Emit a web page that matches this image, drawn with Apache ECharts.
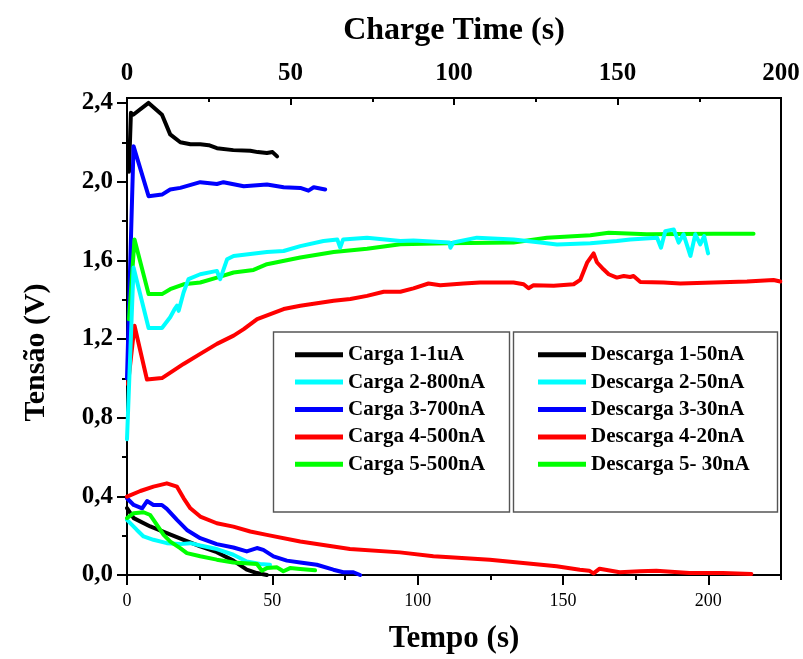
<!DOCTYPE html>
<html>
<head>
<meta charset="utf-8">
<script src="https://cdn.jsdelivr.net/npm/echarts@6/dist/echarts.min.js"></script>
<style>
  html, body { margin: 0; padding: 0; background: #fff; }
  #chart { width: 803px; height: 659px; }
</style>
</head>
<body>
<div id="chart"></div>
<script>
// Charge curves: [charge time (s), voltage (V)]
const carga1 = [[0.6,2.05],[1.2,2.35],[1.9,2.34],[6.6,2.40],[10.7,2.34],[13.2,2.24],[16.3,2.20],[19.4,2.19],[22.4,2.19],[25.0,2.185],[27.5,2.17],[32.5,2.16],[37.7,2.157],[40.0,2.15],[42.8,2.145],[44.5,2.15],[45.9,2.128]];
const carga2 = [[0,0.69],[2.0,1.563],[6.6,1.256],[10.7,1.256],[13.2,1.31],[14.5,1.35],[15.3,1.369],[15.8,1.343],[17.3,1.436],[18.8,1.504],[22.4,1.529],[27.5,1.546],[28.5,1.504],[30.6,1.605],[32.6,1.622],[42.8,1.642],[47.9,1.647],[53.0,1.672],[60.1,1.698],[64.3,1.706],[65.2,1.665],[66.1,1.706],[73.4,1.715],[83.6,1.698],[87.6,1.70],[98.6,1.69],[98.9,1.664],[99.8,1.69],[107.0,1.715],[118.2,1.706],[126.4,1.69],[131.5,1.68],[141.7,1.686],[149.8,1.698],[153.9,1.706],[162.1,1.715],[163.3,1.664],[164.6,1.748],[167.2,1.757],[168.7,1.69],[170.2,1.732],[172.3,1.622],[173.8,1.732],[175.3,1.681],[176.5,1.723],[177.7,1.635]];
const carga3 = [[0,1.00],[2.0,2.18],[6.6,1.926],[10.7,1.934],[13.2,1.96],[16.3,1.968],[22.4,1.997],[27.5,1.988],[29.5,1.997],[35.7,1.976],[42.8,1.985],[47.9,1.971],[53.0,1.968],[55.5,1.954],[57.1,1.971],[60.6,1.96]];
const carga4 = [[0.3,0.97],[2.3,1.267],[6.1,0.994],[10.7,1.001],[14.3,1.04],[17.3,1.073],[22.4,1.124],[27.5,1.175],[32.6,1.217],[35.7,1.25],[39.8,1.301],[47.9,1.352],[53.0,1.369],[63.2,1.394],[68.3,1.403],[73.4,1.419],[78.5,1.44],[83.6,1.44],[87.6,1.457],[92.2,1.482],[95.8,1.473],[102.9,1.482],[108.0,1.487],[118.2,1.487],[121.3,1.478],[122.8,1.458],[124.3,1.473],[130.5,1.47],[136.6,1.478],[138.6,1.50],[140.7,1.588],[142.7,1.635],[143.7,1.59],[145.7,1.554],[147.3,1.529],[149.8,1.512],[151.9,1.52],[153.9,1.515],[154.9,1.52],[157.0,1.49],[164.1,1.487],[169.2,1.482],[179.4,1.487],[189.6,1.492],[197.7,1.50],[199.8,1.492]];
const carga5 = [[0.6,1.30],[2.3,1.706],[6.6,1.428],[10.7,1.428],[13.2,1.453],[17.3,1.478],[22.4,1.487],[27.5,1.512],[32.6,1.538],[38.7,1.551],[42.8,1.58],[53.0,1.614],[63.2,1.642],[73.4,1.659],[83.6,1.681],[97.9,1.686],[118.2,1.69],[128.4,1.715],[141.7,1.727],[147.3,1.74],[159.0,1.732],[179.4,1.735],[191.6,1.735]];

// Discharge curves: [time (s), voltage (V)]
const descarga1 = [[0,0.34],[2.3,0.289],[8.0,0.247],[13.7,0.213],[19.5,0.179],[25.2,0.145],[30.9,0.116],[36.6,0.073],[41.2,0.027],[44.7,0.01],[48.1,0.0]];
const descarga2 = [[0,0.28],[3.4,0.229],[5.7,0.196],[9.1,0.179],[13.7,0.162],[18.3,0.157],[21.8,0.162],[25.2,0.15],[30.9,0.132],[36.6,0.103],[41.2,0.069],[45.8,0.056],[49.2,0.052]];
const descarga3 = [[0,0.39],[2.3,0.356],[5.2,0.339],[6.9,0.376],[9.1,0.356],[12.0,0.356],[13.7,0.336],[17.2,0.28],[20.6,0.229],[25.2,0.187],[30.9,0.157],[36.6,0.14],[41.2,0.12],[44.7,0.137],[46.9,0.128],[50.4,0.095],[55.0,0.073],[59.6,0.064],[65.3,0.052],[71.0,0.027],[74.4,0.014],[77.9,0.014],[80.2,0.0]];
const descarga4 = [[0,0.398],[4.6,0.427],[9.1,0.449],[13.7,0.466],[17.2,0.449],[19.5,0.39],[21.8,0.339],[25.2,0.297],[30.9,0.263],[36.6,0.246],[42.4,0.221],[48.1,0.204],[59.6,0.17],[71.0,0.145],[76.7,0.132],[93.9,0.115],[105.4,0.095],[111.1,0.09],[124.8,0.078],[136.3,0.061],[147.8,0.044],[155.8,0.027],[159.0,0.022],[160.5,0.008],[162.6,0.032],[169.5,0.014],[176.4,0.019],[182.1,0.022],[193.5,0.01],[205.0,0.01],[214.8,0.005]];
const descarga5 = [[0,0.289],[2.3,0.314],[5.7,0.319],[8.0,0.305],[10.3,0.255],[12.6,0.204],[14.9,0.17],[18.3,0.137],[20.6,0.111],[25.2,0.095],[30.9,0.078],[36.6,0.064],[44.7,0.056],[46.4,0.022],[48.1,0.035],[51.6,0.039],[53.8,0.019],[56.1,0.035],[59.6,0.03],[64.7,0.024]];

const chargeNames = ['Carga 1-1uA', 'Carga 2-800nA', 'Carga 3-700nA', 'Carga 4-500nA', 'Carga 5-500nA'];
const dischargeNames = ['Descarga 1-50nA', 'Descarga 2-50nA', 'Descarga 3-30nA', 'Descarga 4-20nA', 'Descarga 5- 30nA'];
const colors = ['#000000', '#00ffff', '#0000ff', '#ff0000', '#00ff00'];

const yMajorTicks = [0, 0.4, 0.8, 1.2, 1.6, 2.0, 2.4];
const yMinorTicks = [0.2, 0.6, 1.0, 1.4, 1.8, 2.2];
const tMajorTicks = [0, 50, 100, 150, 200];
const tMinorTicks = [25, 75, 125, 175, 225];
const chargeMajorTicks = [0, 50, 100, 150, 200];
const chargeMinorTicks = [25, 75, 125, 175];

const FONT = '"Liberation Serif", "Times New Roman", serif';

const chart = echarts.init(document.getElementById('chart'), null, { renderer: 'canvas' });

const chargeSeries = [carga1, carga2, carga3, carga4, carga5];
const dischargeSeries = [descarga1, descarga2, descarga3, descarga4, descarga5];

function lineSeries(name, data, color, xIdx, z) {
  return {
    name: name, type: 'line', data: data, xAxisIndex: xIdx, yAxisIndex: 0,
    showSymbol: false, symbol: 'none', smooth: false, z: z,
    lineStyle: { width: 4, color: color, join: 'round', cap: 'round' },
    itemStyle: { color: color },
    emphasis: { disabled: true }
  };
}

// draw order: black, red, blue, green, cyan on top
const drawOrder = [0, 3, 2, 4, 1];
const series = [];
drawOrder.forEach((i, k) => series.push(lineSeries(chargeNames[i], chargeSeries[i], colors[i], 2, 2 + k * 0.01)));
[0, 1, 2, 3, 4].forEach((i, k) => series.push(lineSeries(dischargeNames[i], dischargeSeries[i], colors[i], 0, 2 + k * 0.01)));

const legendText = { fontFamily: FONT, fontWeight: 'bold', fontSize: 21, lineHeight: 21.4, color: '#000' };

const option = {
  animation: false,
  backgroundColor: '#fff',
  grid: { left: 127, right: 22, top: 98, bottom: 82, show: true, borderColor: '#000', borderWidth: 2, backgroundColor: 'transparent' },
  xAxis: [
    {
      type: 'value', position: 'bottom', min: 0, max: 225,
      name: 'Tempo (s)', nameLocation: 'middle', nameGap: 48,
      nameTextStyle: { fontFamily: FONT, fontWeight: 'bold', fontSize: 31, color: '#000' },
      axisLine: { show: true, lineStyle: { color: '#000', width: 2 } },
      axisTick: { show: true, inside: false, length: 10, customValues: tMajorTicks, lineStyle: { color: '#000', width: 2 } },
      axisLabel: { show: true, customValues: tMajorTicks, margin: 17, fontFamily: FONT, fontSize: 18, color: '#000' },
      splitLine: { show: false }
    },
    {
      type: 'value', position: 'bottom', min: 0, max: 225,
      axisLine: { show: false },
      axisTick: { show: true, inside: false, length: 5, customValues: tMinorTicks, lineStyle: { color: '#000', width: 2 } },
      axisLabel: { show: false },
      splitLine: { show: false }
    },
    {
      type: 'value', position: 'top', min: 0, max: 200,
      name: 'Charge Time (s)', nameLocation: 'middle', nameGap: 51,
      nameTextStyle: { fontFamily: FONT, fontWeight: 'bold', fontSize: 32, color: '#000' },
      axisLine: { show: true, lineStyle: { color: '#000', width: 2 } },
      axisTick: { show: true, inside: true, length: 7, customValues: chargeMajorTicks, lineStyle: { color: '#000', width: 2 } },
      axisLabel: { show: true, customValues: chargeMajorTicks, margin: 12, fontFamily: FONT, fontWeight: 'bold', fontSize: 25, color: '#000' },
      splitLine: { show: false }
    },
    {
      type: 'value', position: 'top', min: 0, max: 200,
      axisLine: { show: false },
      axisTick: { show: true, inside: true, length: 4, customValues: chargeMinorTicks, lineStyle: { color: '#000', width: 2 } },
      axisLabel: { show: false },
      splitLine: { show: false }
    }
  ],
  yAxis: [
    {
      type: 'value', position: 'left', min: 0, max: 2.425,
      name: 'Tensão (V)', nameLocation: 'middle', nameGap: 76, nameRotate: 90,
      nameTextStyle: { fontFamily: FONT, fontWeight: 'bold', fontSize: 30, color: '#000', padding: [0, 32, 0, 0] },
      axisLine: { show: true, lineStyle: { color: '#000', width: 2 } },
      axisTick: { show: true, inside: false, length: 10, customValues: yMajorTicks, lineStyle: { color: '#000', width: 2 } },
      axisLabel: {
        show: true, customValues: yMajorTicks, margin: 14,
        fontFamily: FONT, fontWeight: 'bold', fontSize: 25, color: '#000',
        formatter: v => v.toFixed(1).replace('.', ',')
      },
      splitLine: { show: false }
    },
    {
      type: 'value', position: 'left', min: 0, max: 2.425,
      axisLine: { show: false },
      axisTick: { show: true, inside: false, length: 5, customValues: yMinorTicks, lineStyle: { color: '#000', width: 2 } },
      axisLabel: { show: false },
      splitLine: { show: false }
    }
  ],
  legend: [
    {
      data: chargeNames, orient: 'vertical', left: 295, top: 344, padding: 0,
      itemWidth: 48, itemHeight: 5, itemGap: 6, icon: 'rect',
      selectedMode: false, textStyle: legendText
    },
    {
      data: dischargeNames, orient: 'vertical', left: 538, top: 344, padding: 0,
      itemWidth: 48, itemHeight: 5, itemGap: 6, icon: 'rect',
      selectedMode: false, textStyle: legendText
    }
  ],
  graphic: [
    { type: 'rect', z: 10, shape: { x: 273.5, y: 332, width: 236, height: 180 }, style: { fill: 'none', stroke: '#555', lineWidth: 1.4 } },
    { type: 'rect', z: 10, shape: { x: 513.5, y: 332, width: 264, height: 180 }, style: { fill: 'none', stroke: '#555', lineWidth: 1.4 } }
  ],
  series: series
};

chart.setOption(option);
</script>
</body>
</html>
